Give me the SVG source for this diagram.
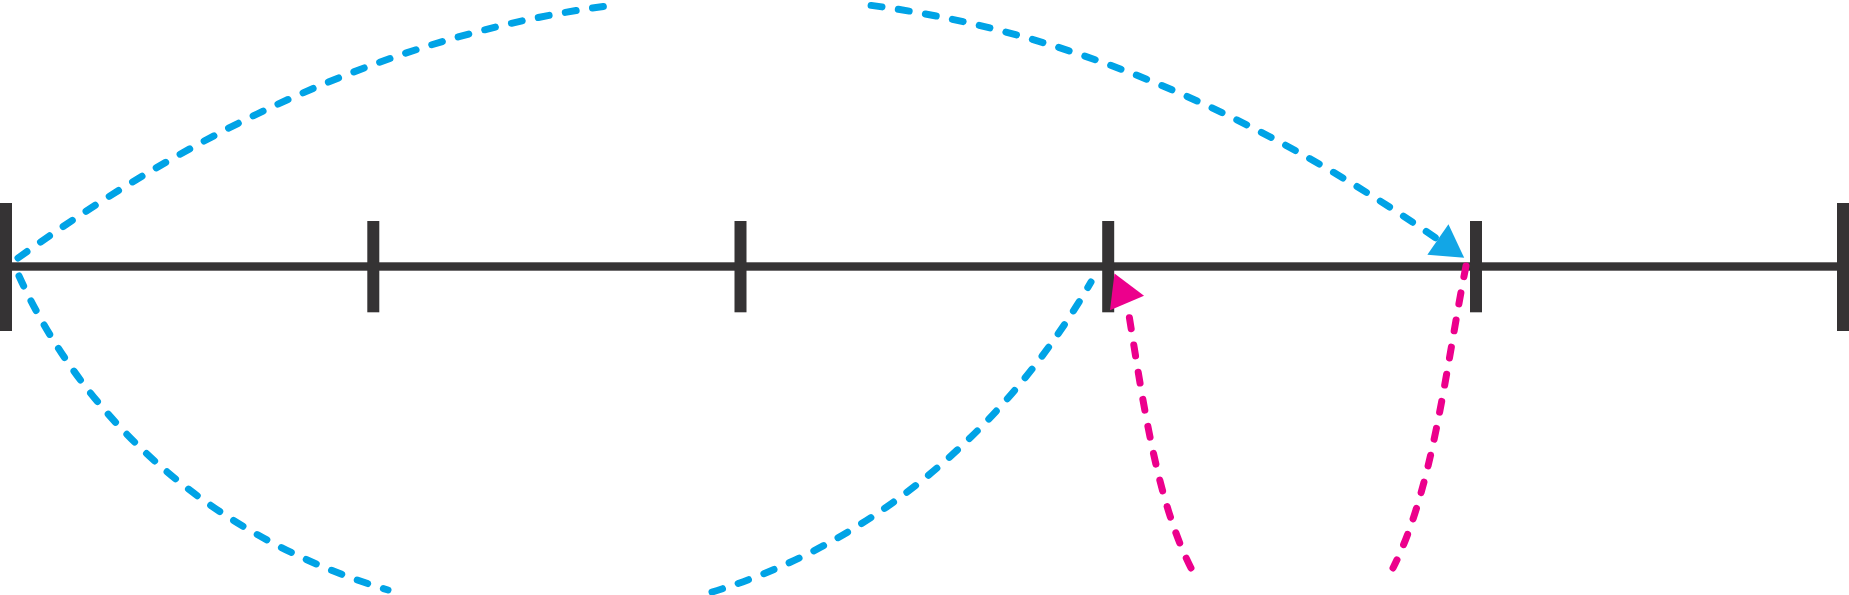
<svg xmlns="http://www.w3.org/2000/svg" width="1849" height="595" viewBox="0 0 1849 595">
  <style>
    .axis { fill: #353334; }
    .jump { fill: none; stroke-width: 7; stroke-linecap: round; stroke-dasharray: 11 16.5; }
    .blue { stroke: #00A3E6; }
    .pink { stroke: #EC008C; }
  </style>
  <defs>
    <marker id="arrowBlue" markerUnits="userSpaceOnUse" markerWidth="40" markerHeight="40" refX="0" refY="18.5" orient="auto" overflow="visible">
      <path d="M0,0 L32,18.5 L0,37 z" fill="#12A6E6"/>
    </marker>
    <marker id="arrowPink" markerUnits="userSpaceOnUse" markerWidth="40" markerHeight="40" refX="0" refY="18.5" orient="247" overflow="visible">
      <path d="M0,0 L32,18.5 L0,37 z" fill="#EC008C"/>
    </marker>
  </defs>
  <rect width="1849" height="595" fill="#ffffff"/>
  <g id="number-line">
    <rect class="axis" x="12" y="262.3" width="1825" height="8.4"/>
    <rect id="tick-0" class="axis" x="0" y="203" width="12" height="128"/>
    <rect id="tick-1" class="axis" x="367.3" y="221" width="12" height="91.3"/>
    <rect id="tick-2" class="axis" x="734.5" y="221" width="12" height="91.3"/>
    <rect id="tick-3" class="axis" x="1102.2" y="221" width="12" height="91.3"/>
    <rect id="tick-4" class="axis" x="1470" y="221" width="12" height="91.3"/>
    <rect id="tick-5" class="axis" x="1837" y="203" width="12" height="128"/>
  </g>
  <g id="connectors">
    <path class="jump blue" d="M18,258 C216,115.3 413.5,31.1 610.9,5.4"/>
    <path class="jump blue" d="M871.1,5.4 C1059.8,30 1248.6,108 1437.9,239.5" marker-end="url(#arrowBlue)"/>
    <path class="jump blue" d="M19,276 C89.6,431.8 224.2,541.1 388,590"/>
    <path class="jump blue" d="M712,592 C873.9,543 1006.5,428.4 1091,282"/>
    <path class="jump pink" d="M1466,266 C1446.4,364 1433.5,488 1393,568"/>
    <path class="jump pink" d="M1191,568 C1155.4,497.8 1142,393.6 1127,303" marker-end="url(#arrowPink)"/>
  </g>
</svg>
